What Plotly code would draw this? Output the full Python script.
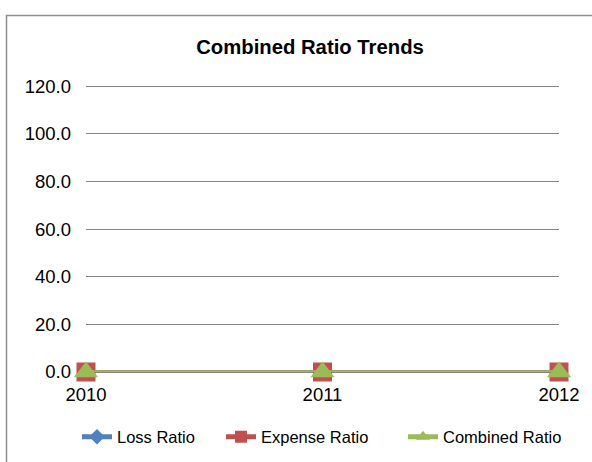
import plotly.graph_objects as go

# Chart data
years = ["2010", "2011", "2012"]
loss_ratio = [0.0, 0.0, 0.0]
expense_ratio = [0.0, 0.0, 0.0]
combined_ratio = [0.0, 0.0, 0.0]
y_ticks = [0, 20, 40, 60, 80, 100, 120]

W, H = 592, 462
L, R, T, B = 86, 33, 84, 90
FONT = "Liberation Sans, Arial, sans-serif"

fig = go.Figure()

# name, values, colour, marker symbol, marker size, legend id, legend text x (px)
series = [
    ("Loss Ratio", loss_ratio, "#4F81BD", "diamond", 14, "legend", 119),
    ("Expense Ratio", expense_ratio, "#C0504D", "square", 19, "legend2", 263),
    ("Combined Ratio", combined_ratio, "#9BBB59", "triangle-up", 21, "legend3", 445),
]
legend_cfg = {}
for name, vals, color, symbol, size, leg, text_x in series:
    fig.add_trace(go.Scatter(
        x=years, y=vals, name=name, mode="lines+markers",
        line=dict(color=color, width=3.5),
        marker=dict(symbol=symbol, size=size, color=color),
        cliponaxis=False, legend=leg,
    ))
    legend_cfg[leg] = dict(
        orientation="h", xref="container", yref="container",
        x=(text_x - 42) / W, xanchor="left", y=1 - 437 / H, yanchor="middle",
        font=dict(family=FONT, size=16.5, color="#000000"),
        itemsizing="constant", bgcolor="rgba(0,0,0,0)",
    )

# Outer chart frame (left and top edges visible)
pw, ph = W - L - R, H - T - B
fig.add_shape(
    type="rect", xref="paper", yref="paper",
    x0=(6.5 - L) / pw, x1=(W + 20 - L) / pw,
    y0=(H - B - (H + 20)) / ph, y1=(H - B - 15.5) / ph,
    line=dict(color="#8e8e8e", width=1.5), fillcolor="rgba(0,0,0,0)",
    layer="below",
)

fig.update_layout(
    width=W, height=H,
    margin=dict(l=L, r=R, t=T, b=B),
    paper_bgcolor="white", plot_bgcolor="white",
    font=dict(family=FONT, size=16.5, color="#000000"),
    title=dict(
        text="<b>Combined Ratio Trends</b>",
        font=dict(family=FONT, size=20.3, color="#000000"),
        x=310 / W, xanchor="center", xref="container",
        y=1 - 47 / H, yanchor="middle", yref="container",
    ),
    showlegend=True,
    **legend_cfg,
)

fig.update_xaxes(
    type="category", range=[0, 2], showgrid=False, zeroline=False,
    showline=False, ticks="outside", ticklen=6, tickcolor="rgba(0,0,0,0)",
    tickfont=dict(family=FONT, size=18.5, color="#000000"),
)
fig.update_yaxes(
    range=[0, 121], tickvals=y_ticks, tickformat=".1f",
    showgrid=True, gridcolor="#868686", gridwidth=1,
    zeroline=True, zerolinecolor="#868686", zerolinewidth=1,
    showline=False, ticks="", ticklabelstandoff=14,
    tickfont=dict(family=FONT, size=18.5, color="#000000"),
)

fig.write_html("out.html")
